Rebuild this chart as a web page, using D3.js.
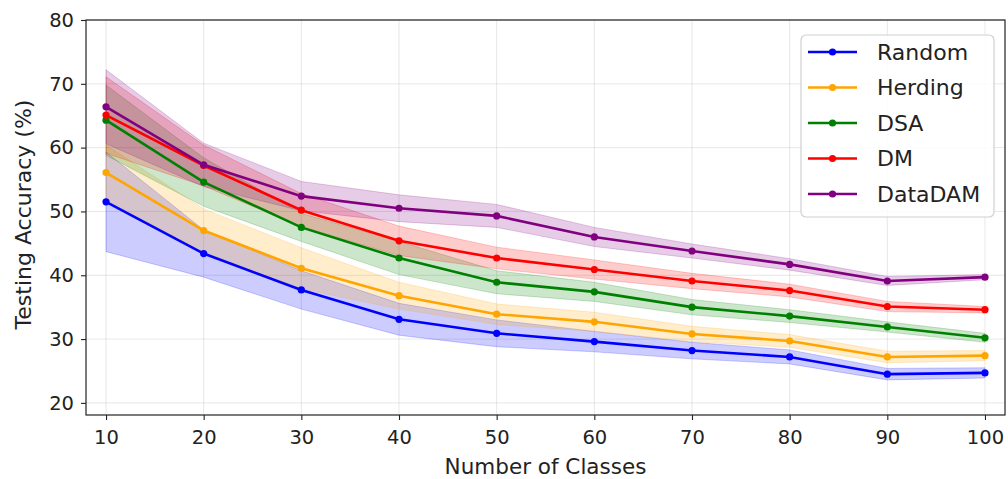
<!DOCTYPE html>
<html><head><meta charset="utf-8">
<script src="https://cdn.jsdelivr.net/npm/d3@7"></script>
<style>body{margin:0;background:#fff}svg{display:block}text{font-family:"DejaVu Sans",sans-serif;fill:#222}</style>
</head><body><svg id="c" width="1008" height="479"></svg>
<script>
const classes = [10,20,30,40,50,60,70,80,90,100];
const seriesNames = ["Random","Herding","DSA","DM","DataDAM"];
const seriesColors = ["#0000ff","#ffa500","#008000","#ff0000","#800080"];
const randomMean  = [51.5,43.4,37.7,33.1,30.9,29.6,28.2,27.2,24.5,24.7];
const randomStd   = [7.8,3.7,3.0,2.5,2.1,1.6,1.3,1.1,0.9,0.8];
const herdingMean = [56.1,47.0,41.1,36.8,33.9,32.7,30.8,29.7,27.2,27.4];
const herdingStd  = [4.3,3.4,3.2,2.1,1.6,1.5,1.2,1.0,0.9,0.8];
const dsaMean     = [64.3,54.6,47.5,42.7,38.9,37.4,35.0,33.6,31.9,30.2];
const dsaStd      = [5.5,3.8,2.2,2.6,1.8,1.5,1.2,1.0,0.8,0.7];
const dmMean      = [65.1,57.2,50.2,45.4,42.7,40.9,39.1,37.6,35.1,34.6];
const dmStd       = [6.0,3.2,2.6,2.3,1.7,1.5,1.2,1.0,0.8,0.5];
const datadamMean = [66.4,57.3,52.4,50.5,49.3,46.0,43.8,41.7,39.1,39.7];
const datadamStd  = [5.8,3.4,2.3,2.1,1.8,1.5,1.1,0.9,0.7,0.4];
const yTicks = [20,30,40,50,60,70,80];
const xTicks = classes;

const means = [randomMean,herdingMean,dsaMean,dmMean,datadamMean];
const stds = [randomStd,herdingStd,dsaStd,dmStd,datadamStd];

const L=86,R=1005,T=20,B=415;
const svg=d3.select("#c");
svg.append("rect").attr("width",1008).attr("height",479).attr("fill","#fff");
const x=d3.scaleLinear().domain([7.95,102.05]).range([L,R]);
const y=d3.scaleLinear().domain([18.1,80]).range([B,T]);

// grid
const g=svg.append("g");
g.selectAll(".gx").data(xTicks).join("line").attr("x1",d=>x(d)).attr("x2",d=>x(d)).attr("y1",T).attr("y2",B)
 .attr("stroke","#b0b0b0").attr("stroke-opacity",0.3).attr("stroke-width",1);
g.selectAll(".gy").data(yTicks).join("line").attr("y1",d=>y(d)).attr("y2",d=>y(d)).attr("x1",L).attr("x2",R)
 .attr("stroke","#b0b0b0").attr("stroke-opacity",0.3).attr("stroke-width",1);

const area=d3.area().x((d,i)=>x(classes[i])).y0(d=>y(d[0]-d[1])).y1(d=>y(d[0]+d[1]));
const line=d3.line().x((d,i)=>x(classes[i])).y(d=>y(d));

seriesNames.forEach((n,k)=>{
  const pts=means[k].map((m,i)=>[m,stds[k][i]]);
  svg.append("path").attr("d",area(pts)).attr("fill",seriesColors[k]).attr("fill-opacity",0.2)
    .attr("stroke",seriesColors[k]).attr("stroke-opacity",0.2).attr("stroke-width",1);
});
seriesNames.forEach((n,k)=>{
  svg.append("path").attr("d",line(means[k])).attr("fill","none").attr("stroke",seriesColors[k]).attr("stroke-width",2.6);
  svg.selectAll(null).data(means[k]).join("circle").attr("cx",(d,i)=>x(classes[i])).attr("cy",d=>y(d)).attr("r",3.6).attr("fill",seriesColors[k]);
});

// axes
const xa=svg.append("g").attr("transform",`translate(0,${B})`).call(d3.axisBottom(x).tickValues(xTicks).tickSize(5).tickPadding(10));
const ya=svg.append("g").attr("transform",`translate(${L},0)`).call(d3.axisLeft(y).tickValues(yTicks).tickSize(5).tickPadding(7));
[xa,ya].forEach(a=>{a.select(".domain").remove();a.selectAll("line").attr("stroke","#222").attr("stroke-width",1.1);
  a.selectAll("text").attr("font-size",19.5).attr("font-family","DejaVu Sans").attr("fill","#222");});
svg.append("rect").attr("x",L).attr("y",T).attr("width",R-L).attr("height",B-T).attr("fill","none").attr("stroke","#222").attr("stroke-width",1.2);

svg.append("text").attr("x",(L+R)/2).attr("y",474).attr("text-anchor","middle").attr("font-size",21.5).text("Number of Classes");
svg.append("text").attr("transform",`translate(31,${(T+B)/2-3}) rotate(-90)`).attr("text-anchor","middle").attr("font-size",22).text("Testing Accuracy (%)");

// legend
const lg=svg.append("g");
lg.append("rect").attr("x",801).attr("y",35).attr("width",193).attr("height",182).attr("rx",5)
  .attr("fill","#fff").attr("fill-opacity",0.85).attr("stroke","#d0d0d0").attr("stroke-width",1.2);
seriesNames.forEach((n,k)=>{
  const yy=52+k*35.5;
  lg.append("line").attr("x1",808).attr("x2",857).attr("y1",yy).attr("y2",yy).attr("stroke",seriesColors[k]).attr("stroke-width",2.6);
  lg.append("circle").attr("cx",832.5).attr("cy",yy).attr("r",3.6).attr("fill",seriesColors[k]);
  lg.append("text").attr("x",877).attr("y",yy).attr("dy","0.36em").attr("font-size",22).text(n);
});
</script></body></html>
